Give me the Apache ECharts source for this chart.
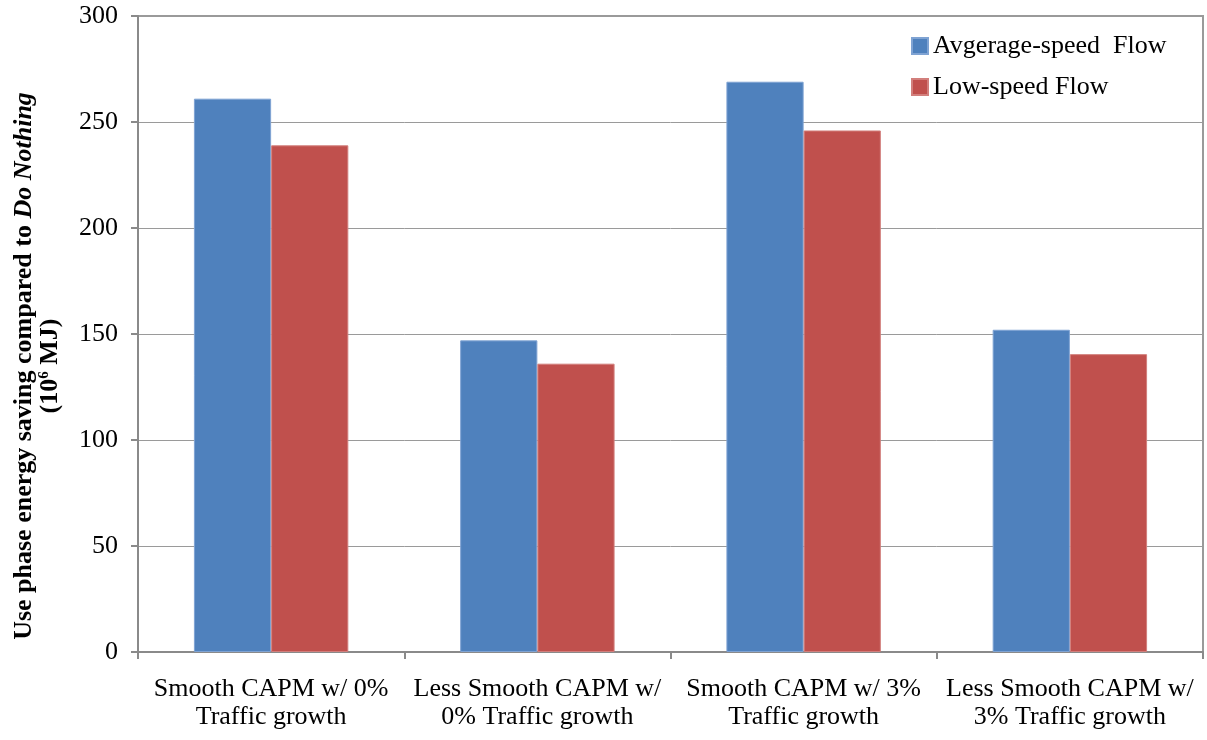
<!DOCTYPE html>
<html>
<head>
<meta charset="utf-8">
<script src="https://cdn.jsdelivr.net/npm/echarts@6/dist/echarts.min.js"></script>
<style>html,body{margin:0;padding:0;background:#fff}#c{width:1207px;height:740px}</style>
</head>
<body>
<div id="c"></div>
<script>
var categories = [
  "Smooth CAPM w/ 0%\nTraffic growth",
  "Less Smooth CAPM w/\n0% Traffic growth",
  "Smooth CAPM w/ 3%\nTraffic growth",
  "Less Smooth CAPM w/\n3% Traffic growth"
];
var seriesNames = ["Avgerage-speed  Flow", "Low-speed Flow"];
var averageSpeed = [261, 147, 269, 152];
var lowSpeed = [239, 136, 246, 140.5];
var yTicks = { min: 0, max: 300, interval: 50 };

var font = "'Liberation Serif', 'Times New Roman', serif";
var chart = echarts.init(document.getElementById('c'), null, { renderer: 'canvas' });
chart.setOption({
  animation: false,
  backgroundColor: '#fff',
  textStyle: { fontFamily: font },
  grid: { left: 138, right: 4, top: 16, bottom: 88, containLabel: false,
          show: true, borderColor: '#9a9a9a', borderWidth: 2, backgroundColor: 'transparent' },
  legend: {
    orient: 'vertical',
    left: 906, top: 28,
    itemWidth: 16, itemHeight: 16, itemGap: 15,
    icon: 'rect',
    textStyle: { fontFamily: font, fontSize: 26, color: '#000' },
    data: seriesNames
  },
  xAxis: {
    type: 'category',
    data: categories,
    axisLine: { lineStyle: { color: '#8a8a8a', width: 2 } },
    axisTick: { show: true, length: 7, lineStyle: { color: '#8a8a8a', width: 2 } },
    axisLabel: { fontFamily: font, fontSize: 26, color: '#000', margin: 23, lineHeight: 28, interval: 0 }
  },
  yAxis: {
    type: 'value',
    min: yTicks.min, max: yTicks.max, interval: yTicks.interval,
    name: 'Use phase energy saving compared to {i|Do Nothing}\n(10{s|6} MJ)',
    nameLocation: 'middle',
    nameRotate: 90,
    nameGap: 75,
    nameTextStyle: {
      fontFamily: font, fontSize: 26, fontWeight: 'bold', color: '#000', lineHeight: 26,
      padding: [0, 64, 0, 0],
      rich: {
        i: { fontFamily: font, fontSize: 26, fontWeight: 'bold', fontStyle: 'italic', color: '#000' },
        s: { fontFamily: font, fontSize: 15, fontWeight: 'bold', color: '#000', verticalAlign: 'top', padding: [0, 0, 8, 0] }
      }
    },
    axisLine: { show: true, lineStyle: { color: '#8a8a8a', width: 2 } },
    axisTick: { show: true, length: 7, lineStyle: { color: '#8a8a8a', width: 2 } },
    axisLabel: { fontFamily: font, fontSize: 26, color: '#000', margin: 20 },
    splitLine: { lineStyle: { color: '#9a9a9a', width: 1 } }
  },
  series: [
    {
      name: seriesNames[0], type: 'bar', data: averageSpeed,
      barGap: '0%', barCategoryGap: '42%',
      itemStyle: { color: '#4F81BD', borderColor: '#7FA3D3', borderWidth: 1 }
    },
    {
      name: seriesNames[1], type: 'bar', data: lowSpeed,
      barGap: '0%', barCategoryGap: '42%',
      itemStyle: { color: '#C0504D', borderColor: '#D27F7C', borderWidth: 1 }
    }
  ]
});
</script>
</body>
</html>
